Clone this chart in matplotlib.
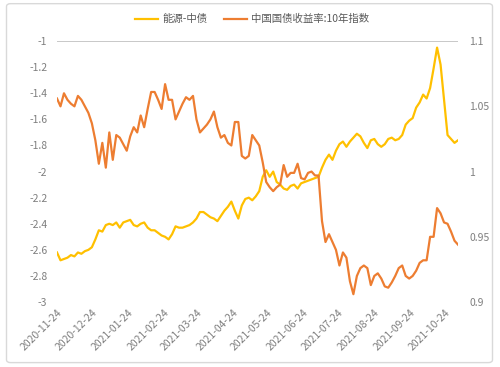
import matplotlib
matplotlib.use("Agg")
import matplotlib.pyplot as plt
from matplotlib.patches import FancyBboxPatch
import pandas as pd

plt.rcParams['font.family'] = ['Noto Sans CJK SC', 'DejaVu Sans']

# dates: every 3 days from 2020-11-24 to 2021-11-04
dates = pd.date_range('2020-11-24', '2021-11-04', freq='3D')

# 能源-中债 (left axis)
energy_spread = [
    -2.62, -2.68, -2.67, -2.66, -2.64, -2.65, -2.62, -2.63, -2.61, -2.60,
    -2.58, -2.52, -2.45, -2.46, -2.41, -2.40, -2.41, -2.39, -2.43, -2.39,
    -2.38, -2.37, -2.41, -2.42, -2.40, -2.39, -2.43, -2.45, -2.45, -2.47,
    -2.49, -2.50, -2.52, -2.48, -2.42, -2.43, -2.43, -2.42, -2.41, -2.39,
    -2.36, -2.31, -2.31, -2.33, -2.35, -2.36, -2.38, -2.34, -2.30, -2.27,
    -2.23, -2.30, -2.36, -2.26, -2.21, -2.20, -2.22, -2.19, -2.15, -2.04,
    -1.99, -2.04, -2.00, -2.08, -2.10, -2.13, -2.14, -2.11, -2.10, -2.13,
    -2.09, -2.08, -2.07, -2.06, -2.05, -2.04, -1.97, -1.91, -1.87, -1.91,
    -1.84, -1.79, -1.77, -1.81, -1.77, -1.74, -1.71, -1.73, -1.78, -1.82,
    -1.76, -1.75, -1.79, -1.81, -1.79, -1.75, -1.74, -1.76, -1.75, -1.72,
    -1.64, -1.61, -1.59, -1.51, -1.47, -1.41, -1.44, -1.36, -1.21, -1.05,
    -1.18, -1.45, -1.72, -1.75, -1.78, -1.76,
]

# 中国国债收益率:10年指数 (right axis)
bond_index = [
    1.056, 1.050, 1.060, 1.055, 1.052, 1.050, 1.058, 1.055, 1.050, 1.045,
    1.037, 1.024, 1.006, 1.022, 1.003, 1.030, 1.009, 1.028, 1.026, 1.021,
    1.016, 1.027, 1.034, 1.030, 1.043, 1.034, 1.048, 1.061, 1.061, 1.055,
    1.048, 1.067, 1.055, 1.055, 1.040, 1.046, 1.052, 1.057, 1.055, 1.058,
    1.040, 1.030, 1.033, 1.036, 1.040, 1.046, 1.034, 1.026, 1.028, 1.022,
    1.020, 1.038, 1.038, 1.012, 1.010, 1.012, 1.028, 1.024, 1.020, 1.007,
    0.992, 0.988, 0.985, 0.988, 0.990, 1.005, 0.996, 0.999, 0.999, 1.006,
    0.995, 0.994, 0.999, 1.000, 0.997, 0.997, 0.962, 0.946, 0.952, 0.946,
    0.940, 0.928, 0.938, 0.934, 0.916, 0.906, 0.920, 0.926, 0.928, 0.926,
    0.913, 0.920, 0.922, 0.918, 0.912, 0.911, 0.915, 0.920, 0.926, 0.928,
    0.920, 0.918, 0.920, 0.924, 0.930, 0.932, 0.932, 0.950, 0.950, 0.972,
    0.968, 0.961, 0.960, 0.954, 0.947, 0.944,
]

label_left = '能源-中债'
label_right = '中国国债收益率:10年指数'
tick_dates = pd.date_range('2020-11-01', '2021-10-01', freq='MS') + pd.Timedelta(days=23)

grey = '#7f7f7f'
yellow = '#FFC000'
orange = '#ED7D31'

fig = plt.figure(figsize=(5.0, 3.67), dpi=100)
fig.patches.append(FancyBboxPatch((0.013, 0.012), 0.972, 0.978,
                                  boxstyle='round,pad=0,rounding_size=0.008',
                                  transform=fig.transFigure, fc='none',
                                  ec='#d9d9d9', lw=1, zorder=-1))

ax = fig.add_axes([0.114, 0.177, 0.802, 0.711])
ax2 = ax.twinx()
ax.patch.set_visible(False)
ax2.patch.set_visible(False)

l1, = ax.plot(dates, energy_spread, color=yellow, lw=1.6, label=label_left)
l2, = ax2.plot(dates, bond_index, color=orange, lw=1.6, label=label_right)

ax.set_ylim(-3, -1)
ax.set_yticks([-3 + 0.2 * i for i in range(11)])
ax.set_yticklabels(['-3', '-2.8', '-2.6', '-2.4', '-2.2', '-2', '-1.8',
                    '-1.6', '-1.4', '-1.2', '-1'])
ax2.set_ylim(0.9, 1.1)
ax2.set_yticks([0.9, 0.95, 1.0, 1.05, 1.1])
ax2.set_yticklabels(['0.9', '0.95', '1', '1.05', '1.1'])

ax.set_xlim(dates[0], dates[-1])
ax.set_xticks(tick_dates)
ax.set_xticklabels([d.strftime('%Y-%m-%d') for d in tick_dates],
                   rotation=45, ha='right', rotation_mode='anchor')

ax.axhline(-1, color='#bfbfbf', lw=1.2, zorder=0)

for a in (ax, ax2):
    for s in a.spines.values():
        s.set_visible(False)
    a.tick_params(length=0, labelsize=7.5, colors=grey)
ax.tick_params(axis='y', pad=7)
ax2.tick_params(axis='y', pad=8)
ax.tick_params(axis='x', pad=4)

fig.legend(handles=[l1, l2], loc='center', bbox_to_anchor=(0.505, 0.948),
           ncol=2, frameon=False, fontsize=7.5, labelcolor='#595959',
           handlelength=2.2, columnspacing=1.6, handletextpad=0.4)

fig.savefig('out.png', dpi=100)
